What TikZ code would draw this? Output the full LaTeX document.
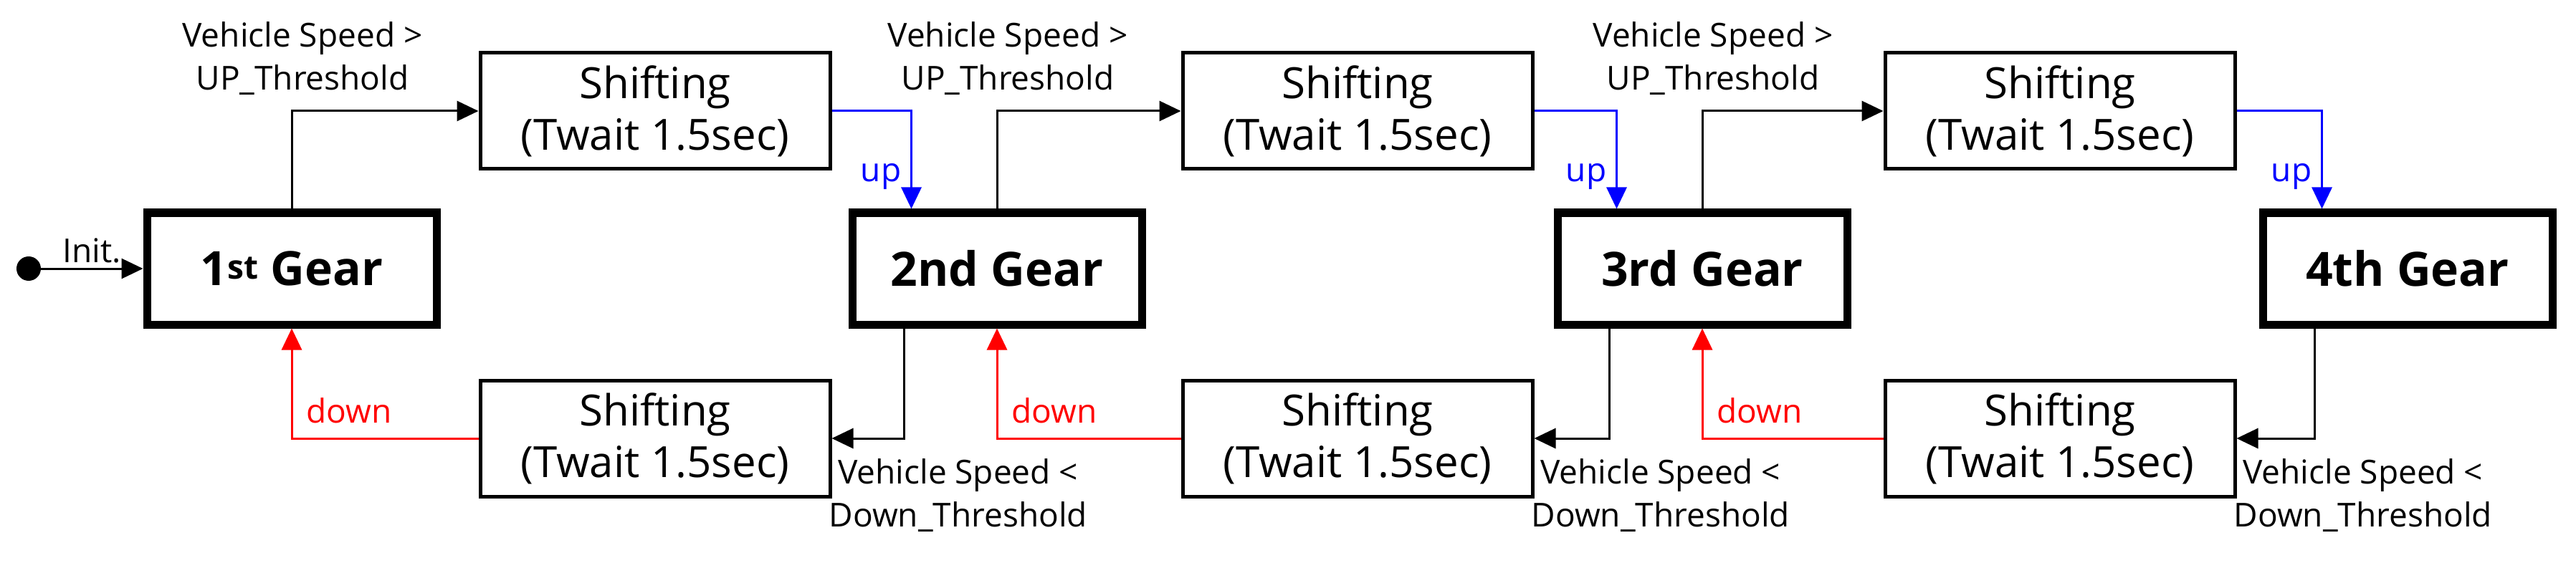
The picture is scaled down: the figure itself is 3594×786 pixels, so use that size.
\documentclass[tikz,border=0pt]{standalone}
\usepackage{fontspec}
\setmainfont{Open Sans}
\usetikzlibrary{arrows.meta,calc}
\begin{document}
\begin{tikzpicture}[x=1pt,y=-1pt,
  gear/.style={draw,line width=11pt,minimum width=404pt,minimum height=156pt,inner sep=0pt,font=\fontsize{66}{74}\selectfont\bfseries},
  shbox/.style={draw,line width=5pt,minimum width=488pt,minimum height=162pt,inner sep=0pt,align=center,font=\fontsize{60}{72}\selectfont},
  conn/.style={line width=3pt,-{Triangle[length=30pt,width=28pt]}},
  lbl/.style={font=\fontsize{46}{60}\selectfont,align=center,inner sep=0pt}]
\useasboundingbox (0,0) rectangle (3594,786);
\foreach \k/\t in {0/{1\textsuperscript{st} Gear},1/{2nd Gear},2/{3rd Gear},3/{4th Gear}}
  \node[gear] (g\k) at ({407+984*\k},375) {\t};
\foreach \k in {0,1,2}{
  \node[shbox] (su\k) at ({914+980*\k},155) {Shifting\\(Twait 1.5sec)};
  \node[shbox] (sd\k) at ({914+980*\k},612) {Shifting\\(Twait 1.5sec)};
  \node[lbl] (lu\k) at ({422+984*\k},82) {Vehicle Speed >\\UP\_Threshold};
}
\foreach \k/\n in {0/1,1/2,2/3}{
  \draw[conn] (g\k.north) |- (su\k.west);
  \coordinate (ta\k) at ($(g\n.north west)+(88,0)$);
  \coordinate (ba\k) at ($(g\n.south west)+(78,0)$);
  \draw[conn,blue] (su\k.east) -| (ta\k);
  \node[lbl,blue,anchor=east] (up\k) at ($(ta\k)+(-14,-45)$) {up};
  \draw[conn] (ba\k) |- (sd\k.east);
  \node[lbl,anchor=north west] (ld\k) at ($(sd\k.east)+(-4,28)$) {Vehicle Speed <\\Down\_Threshold};
  \draw[conn,red] (sd\k.west) -| (g\k.south);
  \node[lbl,red,anchor=west] (dn\k) at ($(g\k.south)+(20,115)$) {down};
}
\node[circle,fill,inner sep=0pt,minimum size=34pt] (dot) at (40,375) {};
\draw[conn] (dot) -- (g0.west) node[lbl,midway,above=6pt] (init) {Init.};
\end{tikzpicture}
\end{document}
